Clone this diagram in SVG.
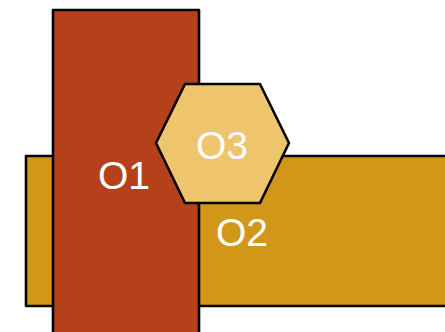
<svg xmlns="http://www.w3.org/2000/svg" width="445" height="332" viewBox="0 0 445 332">
<style>
.s{stroke:#000;stroke-width:2.6;stroke-linejoin:round}
.t{font-family:"Liberation Sans",Arial,sans-serif;font-size:39px;fill:#fff;text-anchor:middle}
</style>
<rect width="445" height="332" fill="#fff"/>
<g id="O2">
<rect class="s" x="26" y="156" width="430" height="150" fill="#D29619"/>
<text class="t" x="242" y="246">O2</text>
</g>
<g id="O1">
<rect class="s" x="53" y="10" width="146" height="340" fill="#B5411A"/>
<text class="t" x="124" y="189">O1</text>
</g>
<g id="O3">
<polygon class="s" points="156,143 185,84 260,84 289,143 260,203 185,203" fill="#EEC46D"/>
<text class="t" x="222" y="159">O3</text>
</g>
<g id="connectors"/>
</svg>
